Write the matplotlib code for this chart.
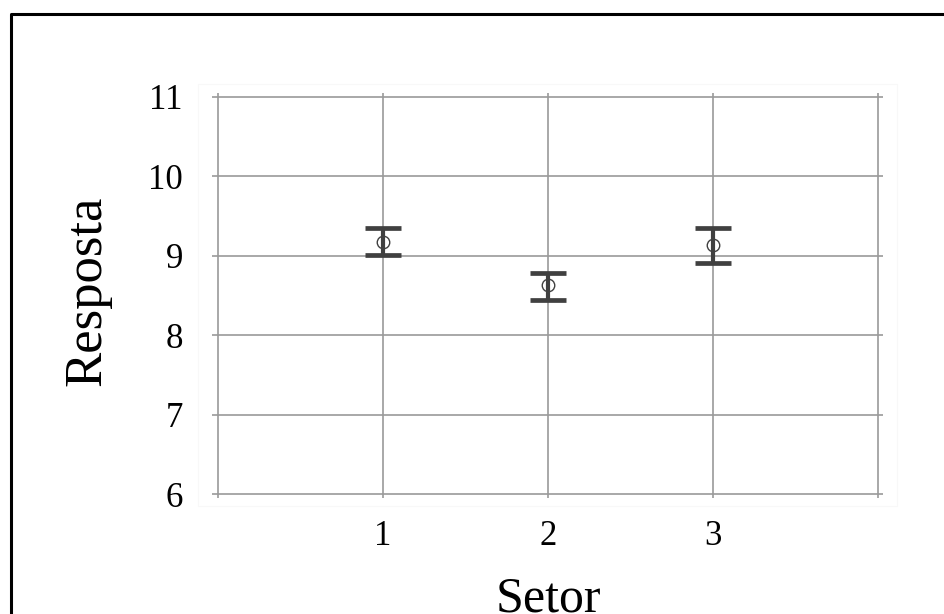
import matplotlib.pyplot as plt
from matplotlib.lines import Line2D
from matplotlib.patches import Rectangle
import numpy as np

plt.rcParams['font.family'] = ['Liberation Serif', 'DejaVu Serif']

# data
setor = [1, 2, 3]
media = [9.17, 8.635, 9.135]
limite_inf = [9.01, 8.445, 8.91]
limite_sup = [9.35, 8.785, 9.35]
xticks = [0, 1, 2, 3, 4]
xlabels = ['', '1', '2', '3', '']
yticks = [6, 7, 8, 9, 10, 11]

W, H = 944, 614
fig = plt.figure(figsize=(W / 100, H / 100), dpi=100)
ax = fig.add_axes([212 / W, 1 - 498 / H, (883 - 212) / W, (498 - 93) / H])

# faint frame round the plot area
fig.patches.append(Rectangle((198 / W, 1 - 506 / H), (897 - 198) / W, (506 - 84) / H,
                             transform=fig.transFigure, fill=False,
                             edgecolor='#f8f8f8', lw=0.8, zorder=0))

ax.set_xlim(-0.0364, 4.03)
ax.set_ylim(5.95, 11.05)
ax.set_xticks(xticks)
ax.set_xticklabels(xlabels)
ax.set_yticks(yticks)
ax.tick_params(length=0, labelsize=25)
ax.tick_params(axis='y', pad=21)
ax.tick_params(axis='x', pad=16)
for s in ax.spines.values():
    s.set_visible(False)
ax.grid(True, color='#9a9a9a', lw=1.2)
ax.set_axisbelow(True)

med = np.array(media)
err = [med - np.array(limite_inf), np.array(limite_sup) - med]
ax.errorbar(setor, med, yerr=err, fmt='none', ecolor='#404040',
            elinewidth=3.0, capsize=13, capthick=3.4, zorder=3)
ax.plot(setor, med, 'o', mfc='none', mec='#404040', ms=9, mew=1.0, zorder=4)

fig.text(100 / W, 1 - 291 / H, 'Resposta', rotation=90, rotation_mode='anchor',
         ha='center', va='baseline', fontsize=38)
fig.text(548 / W, 1 - 611 / H, 'Setor', ha='center', va='baseline', fontsize=36)

# black border of the picture
fig.lines.append(Line2D([10.5 / W, 10.5 / W, 1.0], [0.0, 1 - 14 / H, 1 - 14 / H],
                        transform=fig.transFigure, color='black', lw=2.2))

fig.savefig('out.png', dpi=100)
